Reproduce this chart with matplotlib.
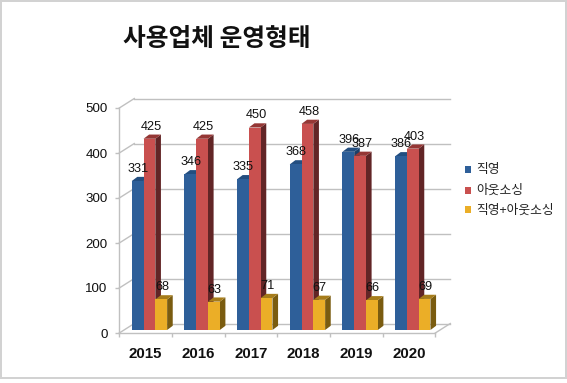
import matplotlib
matplotlib.use("Agg")
import matplotlib.pyplot as plt
from matplotlib.patches import Polygon, Rectangle
from matplotlib.transforms import Affine2D

years = ["2015", "2016", "2017", "2018", "2019", "2020"]
direct = [331, 346, 335, 368, 396, 386]
outsourced = [425, 425, 450, 458, 387, 403]
mixed = [68, 63, 71, 67, 66, 69]
series_names = ["직영", "아웃소싱", "직영+아웃소싱"]
title_text = "사용업체 운영형태"
y_ticks = [0, 100, 200, 300, 400, 500]

W, H = 567, 383
KR = ["Noto Sans CJK KR", "DejaVu Sans"]
plt.rcParams["font.family"] = KR

fig = plt.figure(figsize=(W / 100, H / 100), dpi=100, facecolor="white")
L, R, T, B = 119.3, 435.3, 108.0, 333.0
ax = fig.add_axes([L / W, 1 - B / H, (R - L) / W, (B - T) / H])
ax.set_xlim(0, 6)
ax.set_ylim(0, 500)
ax.patch.set_visible(False)
for s in ax.spines.values():
    s.set_visible(False)

GRID = "#c0c0c0"
wall = ax.transData + Affine2D().translate(15, 9.5)
bar_tf = ax.transData + Affine2D().translate(3.8, 3)

for v in y_ticks:
    ax.plot([0, 6], [v, v], color=GRID, lw=1.0, transform=wall, clip_on=False, zorder=1)
    p0 = ax.transData.transform((0, v))
    ax.plot([p0[0], p0[0] + 15], [p0[1], p0[1] + 9.5], color=GRID, lw=1.0,
            transform=None, clip_on=False, zorder=1)
pr = ax.transData.transform((6, 0))
ax.plot([pr[0], pr[0] + 15], [pr[1], pr[1] + 9.5], color=GRID, lw=1.0, transform=None,
        clip_on=False, zorder=1)
ax.plot([0, 0], [0, 500], color=GRID, lw=1.0, clip_on=False, zorder=1)
ax.plot([0, 6], [0, 0], color=GRID, lw=1.0, clip_on=False, zorder=1)

bw = 11.8 / ((R - L) / 6)
dx = 5.6 / ((R - L) / 6)
dy = 4.2 / ((B - T) / 500)
styles = [
    (direct, "#2E5F99", "#1D3F68", "#234E80", -1),
    (outsourced, "#C9504F", "#622526", "#953735", 0),
    (mixed, "#EBAE27", "#7A5C10", "#A67C1A", 1),
]
for idx, (vals, front, side, top, k) in enumerate(styles):
    for i, v in enumerate(vals):
        x0 = i + 0.5 + k * bw - bw / 2
        z = 4 + i * 3 + idx
        ax.add_patch(Polygon([(x0 + bw, 0), (x0 + bw + dx, dy), (x0 + bw + dx, v + dy), (x0 + bw, v)],
                             closed=True, fc=side, ec="none", transform=bar_tf, zorder=z, clip_on=False))
        ax.add_patch(Polygon([(x0, v), (x0 + dx, v + dy), (x0 + bw + dx, v + dy), (x0 + bw, v)],
                             closed=True, fc=top, ec="none", transform=bar_tf, zorder=z, clip_on=False))
        ax.bar(x0 + bw / 2, v, bw, color=front, transform=bar_tf, zorder=z + 0.2,
               clip_on=False, linewidth=0)

label_dx = [4.3, 5.5, 4.5]
for idx, (vals, *_rest) in enumerate(styles):
    k = idx - 1
    for i, v in enumerate(vals):
        ax.annotate(str(v), xy=(i + 0.5 + k * bw, v), xytext=(label_dx[idx] * 0.72, 15 * 0.72),
                    textcoords="offset points", ha="center", va="center", fontsize=9.2,
                    color="#111111", family=["Liberation Sans"], zorder=50, annotation_clip=False)

ax.set_yticks(y_ticks)
ax.set_yticklabels([str(v) for v in y_ticks], fontsize=9.6, family=["Liberation Sans"], color="#111111")
ax.set_xticks([i + 0.5 for i in range(6)])
ax.set_xticklabels(years, fontsize=10.8, fontweight="bold", family=["Liberation Sans"], color="#111111")
ax.set_xticks(range(7), minor=True)
ax.tick_params(axis="x", which="major", length=0, pad=10)
ax.tick_params(axis="x", which="minor", length=3, color=GRID, width=1)
ax.tick_params(axis="y", length=3, color=GRID, width=1, pad=5.5)

def fx(p):
    return p / W
def fy(p):
    return 1 - p / H

for name, col, yy in zip(series_names, [s[1] for s in styles], [169, 190, 210]):
    fig.add_artist(Rectangle((fx(464.5), fy(yy + 3.5)), 7 / W, 7 / H, transform=fig.transFigure,
                             fc=col, ec="none"))
    fig.text(fx(476), fy(yy), name, fontsize=9.2, va="center", ha="left", color="#222222")

fig.text(fx(123), fy(39.5), title_text, fontsize=17.8, fontweight="bold", va="center", ha="left", color="#111111")

BORDER = "#d2d2d2"
for rect in [(0, 0, 2, 379), (0, 0, 567, 2), (565, 0, 2, 379), (0, 377, 567, 2)]:
    x, y, w, h = rect
    fig.add_artist(Rectangle((fx(x), fy(y + h)), w / W, h / H, transform=fig.transFigure,
                             fc=BORDER, ec="none"))

fig.savefig("out.png", dpi=100, facecolor="white")
